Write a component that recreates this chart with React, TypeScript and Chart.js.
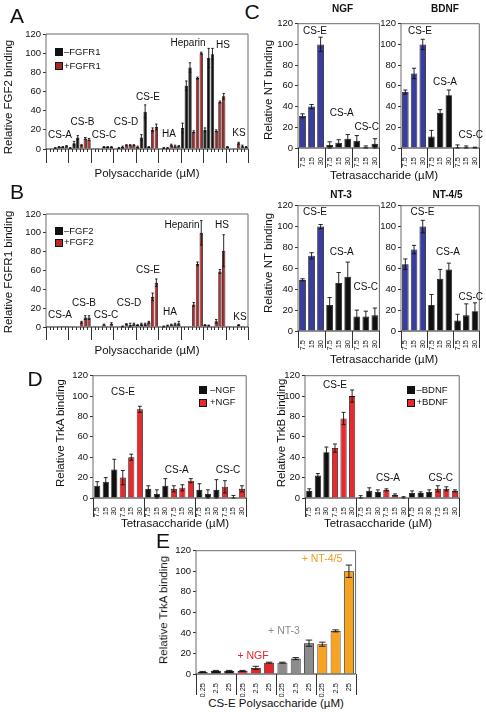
import React, { useEffect, useRef } from 'react';
import { Chart, registerables } from 'chart.js';
Chart.register(...registerables);

const FONT = '"Liberation Sans", Arial, Helvetica, sans-serif';

// ---------- Panel A: FGF2 binding ----------
const aGroups = ['CS-A', 'CS-B', 'CS-C', 'CS-D', 'CS-E', 'HA', 'Heparin', 'HS', 'KS'];
const aMinusFGFR1 = [0.5, 0.5, 1, 1, 6, 12, 0.3, 0.3, 0.5, 0.5, 1, 2, 2, 12, 39, 0.5, 1, 1, 22, 66, 85, 20, 95, 99, 2, 0.5, 0.3];
const aMinusFGFR1Err = [0, 0, 0.5, 0.5, 2, 2, 0, 0, 0, 0, 0.5, 1, 1, 3, 7, 0, 0.5, 0.5, 5, 5, 5, 2, 10, 6, 0.5, 0, 0];
const aPlusFGFR1 = [2, 2, 3, 4, 11, 10, 2, 2, 2, 4, 4, 4, 2, 20, 23, 4, 3, 3, 18, 74, 100, 19, 49, 55, 6, 3, 2];
const aPlusFGFR1Err = [0.5, 0.5, 0.5, 0.5, 1, 1, 0.5, 0.5, 0.5, 0.5, 0.5, 0.5, 0.5, 2, 3, 1, 1, 0.5, 1, 1, 1, 1, 1, 3, 1, 1, 0.5];

// ---------- Panel B: FGFR1 binding ----------
const bMinusFGF2 = [0.3, 0.3, 0.3, 0.3, 0.3, 0.5, 0.3, 0.3, 0.3, 0.3, 0.3, 0.5, 2, 3, 3, 0.3, 0.5, 1.5, 0.3, 0.3, 0.3, 2, 1.5, 0.5, 0.3, 0.3, 0.3];
const bMinusFGF2Err = [0, 0, 0, 0, 0, 0, 0, 0, 0, 0, 0, 0.5, 0.5, 1, 1, 0, 0.5, 0.5, 0, 0, 0, 0.5, 0.5, 0, 0, 0, 0];
const bPlusFGF2 = [1, 1, 1, 5, 10, 10, 2.5, 0.5, 3.5, 3, 2, 3, 5, 32, 47, 2.5, 3, 4, 24, 67, 100, 6, 59, 81, 2, 1, 0.5];
const bPlusFGF2Err = [0, 0, 0, 1, 2, 2, 0.5, 0, 1, 0.5, 2, 1, 1, 4, 4, 0.5, 1, 2, 2, 2, 13, 2, 2, 17, 0.5, 0, 0];

// ---------- Panel C: NT binding ----------
const cConc = ['7.5', '15', '30'];
const cGroups = ['CS-E', 'CS-A', 'CS-C'];
const cNGF = [31, 40, 100, 3, 5, 9, 7, 1, 4];
const cNGFErr = [2, 2, 7, 3, 3, 4, 5, 1, 5];
const cBDNF = [54, 72, 100, 11, 34, 51, 1, 1, 0.3];
const cBDNFErr = [2, 5, 5, 6, 3, 5, 2, 1, 0.5];
const cNT3 = [49, 72, 100, 25, 46, 52, 14, 14, 15];
const cNT3Err = [1, 3, 2, 7, 10, 14, 6, 5, 7];
const cNT45 = [64, 78, 100, 25, 50, 59, 10, 15, 19];
const cNT45Err = [5, 4, 6, 10, 9, 6, 6, 11, 8];

// ---------- Panel D: TrkA / TrkB binding ----------
const dMinusNGF = [12, 16, 28, 9, 4, 12, 8, 4, 8];
const dMinusNGFErr = [4, 4, 10, 3, 4, 7, 6, 4, 10];
const dPlusNGF = [20, 40, 87, 9, 10, 17, 11, 0.5, 9];
const dPlusNGFErr = [7, 3, 3, 3, 3, 2, 6, 2, 3];
const dMinusBDNF = [7, 22, 45, 0.3, 7, 6, 5, 5, 6];
const dMinusBDNFErr = [2, 2, 5, 2, 3, 2, 2, 1, 2];
const dPlusBDNF = [49, 78, 100, 8, 3, 0.3, 9, 9, 7];
const dPlusBDNFErr = [4, 6, 6, 1, 1, 1, 3, 2, 1];

// ---------- Panel E: TrkA binding, CS-E polysaccharide ----------
const eConc = ['0.25', '2.5', '25'];
const eControl = [2, 3, 3];
const eControlErr = [0.5, 0.5, 0.5];
const eNGF = [3, 6, 11];
const eNGFErr = [0.5, 1.5, 0.5];
const eNT3 = [11, 15, 30];
const eNT3Err = [0.5, 1, 3];
const eNT45 = [29, 42, 100];
const eNT45Err = [2, 1, 6];

const BLACK = '#111111';
const BLUE = '#3b3d9c';

type DS = { data: (number | null)[]; errors: (number | null)[]; color: string | string[] };

// Build paired (minus x3, plus x3 per group) slot datasets
function paired(nGroups: number, minus: number[], minusErr: number[], plus: number[], plusErr: number[]) {
  const m: (number | null)[] = [], me: (number | null)[] = [], p: (number | null)[] = [], pe: (number | null)[] = [];
  for (let g = 0; g < nGroups; g++) {
    for (let k = 0; k < 3; k++) { m.push(minus[g * 3 + k]); me.push(minusErr[g * 3 + k]); p.push(null); pe.push(null); }
    for (let k = 0; k < 3; k++) { m.push(null); me.push(null); p.push(plus[g * 3 + k]); pe.push(plusErr[g * 3 + k]); }
  }
  return { m, me, p, pe };
}

const extrasPlugin = {
  id: 'extras',
  afterDatasetsDraw(chart: any, _args: any, opts: any) {
    const { ctx, chartArea: a, scales } = chart;
    const x = scales.x, y = scales.y;
    ctx.save();
    // error bars
    chart.data.datasets.forEach((ds: any, i: number) => {
      const meta = chart.getDatasetMeta(i);
      const errs = ds.errors || [];
      meta.data.forEach((el: any, j: number) => {
        const v = ds.data[j];
        const e = errs[j];
        if (v == null || !e) return;
        const xp = el.x;
        const yt = y.getPixelForValue(v + e);
        const yb = y.getPixelForValue(Math.max(0, v - e));
        const hw = Math.max(1.2, el.width * 0.32);
        ctx.strokeStyle = '#111';
        ctx.lineWidth = 0.9;
        ctx.beginPath();
        ctx.moveTo(xp, yt); ctx.lineTo(xp, yb);
        ctx.moveTo(xp - hw, yt); ctx.lineTo(xp + hw, yt);
        ctx.moveTo(xp - hw, yb); ctx.lineTo(xp + hw, yb);
        ctx.stroke();
      });
    });
    // box
    ctx.strokeStyle = opts.boxColor || '#666';
    ctx.lineWidth = 1;
    ctx.beginPath();
    ctx.moveTo(a.left, a.bottom); ctx.lineTo(a.left, a.top); ctx.lineTo(a.right, a.top); ctx.lineTo(a.right, a.bottom);
    ctx.stroke();
    ctx.strokeStyle = '#222';
    ctx.beginPath();
    ctx.moveTo(a.left, a.bottom); ctx.lineTo(a.right, a.bottom);
    ctx.stroke();
    const n = chart.data.labels.length;
    const bound = (k: number) => (k <= 0 ? a.left : k >= n ? a.right : (x.getPixelForValue(k - 1) + x.getPixelForValue(k)) / 2);
    ctx.strokeStyle = '#333';
    ctx.lineWidth = 1;
    ctx.beginPath();
    for (let k = 0; k <= n; k++) {
      const bx = Math.round(bound(k)) + 0.5;
      if (k % opts.groupSize === 0) {
        ctx.moveTo(bx, a.bottom); ctx.lineTo(bx, a.bottom + opts.sepLen);
      } else if (opts.minor) {
        ctx.moveTo(bx, a.bottom); ctx.lineTo(bx, a.bottom + opts.minorLen);
      }
    }
    ctx.stroke();
    ctx.restore();
  },
};

type PanelProps = {
  area: { l: number; t: number; r: number; b: number };
  yw: number; pt: number; pr: number; xh: number;
  labels: string[];
  showX: boolean;
  datasets: DS[];
  groupSize: number;
  minor: boolean;
  sepLen: number;
  barPct: number;
};

function Panel(p: PanelProps) {
  const ref = useRef<HTMLCanvasElement>(null);
  const left = p.area.l - p.yw;
  const top = p.area.t - p.pt;
  const width = p.area.r + p.pr - left;
  const height = p.area.b + p.xh - top;
  useEffect(() => {
    const chart = new Chart(ref.current as HTMLCanvasElement, {
      type: 'bar',
      data: {
        labels: p.labels,
        datasets: p.datasets.map((d) => ({
          data: d.data,
          errors: d.errors,
          backgroundColor: d.color,
          borderColor: '#111',
          borderWidth: 0.8,
          grouped: false,
          barPercentage: p.barPct,
          categoryPercentage: 1,
        })) as any,
      },
      options: {
        responsive: false,
        animation: false,
        layout: { padding: { top: p.pt, right: p.pr, left: 0, bottom: 0 } },
        plugins: {
          legend: { display: false },
          tooltip: { enabled: false },
          extras: { groupSize: p.groupSize, minor: p.minor, sepLen: p.sepLen, minorLen: 3, boxColor: '#6a6a6a' },
        } as any,
        scales: {
          x: {
            offset: true,
            ticks: {
              display: p.showX,
              autoSkip: false,
              minRotation: 90,
              maxRotation: 90,
              padding: 1,
              color: '#111',
              font: { family: FONT, size: 7.5 },
            },
            grid: { display: false },
            border: { display: false },
            afterFit: (s: any) => { s.height = p.xh; },
          },
          y: {
            min: 0,
            max: 120,
            ticks: { stepSize: 20, padding: 2, color: '#111', font: { family: FONT, size: 9.5 } },
            grid: { drawOnChartArea: false, drawTicks: true, tickLength: 3, color: '#333' },
            border: { display: false },
            afterFit: (s: any) => { s.width = p.yw; },
          },
        },
      } as any,
      plugins: [extrasPlugin],
    });
    return () => chart.destroy();
  }, []);
  return <canvas ref={ref} width={width} height={height} style={{ position: 'absolute', left, top }} />;
}

type TP = { x: number; y: number; s: string; size?: number; color?: string; rot?: number; bold?: boolean; align?: 'center' | 'left' };
function T({ x, y, s, size = 10, color = '#111', rot = 0, bold = false, align = 'center' }: TP) {
  return (
    <div
      style={{
        position: 'absolute',
        left: x,
        top: y,
        transform: `translate(${align === 'left' ? '0' : '-50%'}, -50%) rotate(${rot}deg)`,
        fontSize: size,
        fontFamily: FONT,
        color,
        fontWeight: bold ? 'bold' : 'normal',
        whiteSpace: 'nowrap',
        lineHeight: 1,
      }}
    >
      {s}
    </div>
  );
}

function Sq({ x, y, color }: { x: number; y: number; color: string }) {
  return <div style={{ position: 'absolute', left: x, top: y, width: 6, height: 6, background: color, border: '0.8px solid #111' }} />;
}

const rep = (arr: string[], n: number) => Array.from({ length: n }, () => arr).flat();

export default function App() {
  const A = paired(aGroups.length, aMinusFGFR1, aMinusFGFR1Err, aPlusFGFR1, aPlusFGFR1Err);
  const B = paired(aGroups.length, bMinusFGF2, bMinusFGF2Err, bPlusFGF2, bPlusFGF2Err);
  const DL = paired(cGroups.length, dMinusNGF, dMinusNGFErr, dPlusNGF, dPlusNGFErr);
  const DR = paired(cGroups.length, dMinusBDNF, dMinusBDNFErr, dPlusBDNF, dPlusBDNFErr);
  const abLabels = rep(['', '', '', '', '', ''], aGroups.length);
  const cLabels = rep(cConc, 3);
  const cColors = [BLUE, BLUE, BLUE, BLACK, BLACK, BLACK, BLACK, BLACK, BLACK];
  const dLabels = rep(cConc, 6);
  const eLabels = rep(eConc, 4);
  const eColors = [BLACK, BLACK, BLACK, '#e3262b', '#e3262b', '#e3262b', '#8c8c8c', '#8c8c8c', '#8c8c8c', '#f6a321', '#f6a321', '#f6a321'];
  const ARED = '#a3292b';
  const BRED = '#b52a2b';
  const DRED = '#e62a2d';

  return (
    <div style={{ position: 'absolute', left: 0, top: 0, width: 486, height: 712, background: '#fff', overflow: 'hidden' }}>
      {/* Panel A */}
      <Panel area={{ l: 46, t: 34, r: 248, b: 149 }} yw={46} pt={8} pr={3} xh={20} labels={abLabels} showX={false}
        datasets={[{ data: A.m, errors: A.me, color: BLACK }, { data: A.p, errors: A.pe, color: ARED }]}
        groupSize={6} minor={true} sepLen={14} barPct={0.9} />
      {/* Panel B */}
      <Panel area={{ l: 46, t: 214, r: 248, b: 327 }} yw={46} pt={8} pr={3} xh={20} labels={abLabels} showX={false}
        datasets={[{ data: B.m, errors: B.me, color: BLACK }, { data: B.p, errors: B.pe, color: BRED }]}
        groupSize={6} minor={true} sepLen={13} barPct={0.9} />
      {/* Panel C */}
      <Panel area={{ l: 298, t: 23, r: 383, b: 148 }} yw={24} pt={7} pr={2} xh={22} labels={cLabels} showX={true}
        datasets={[{ data: cNGF, errors: cNGFErr, color: cColors }]} groupSize={3} minor={false} sepLen={20} barPct={0.75} />
      <Panel area={{ l: 401, t: 23, r: 484, b: 148 }} yw={22} pt={7} pr={1} xh={22} labels={cLabels} showX={true}
        datasets={[{ data: cBDNF, errors: cBDNFErr, color: cColors }]} groupSize={3} minor={false} sepLen={20} barPct={0.75} />
      <Panel area={{ l: 298, t: 205, r: 383, b: 331 }} yw={24} pt={7} pr={2} xh={20} labels={cLabels} showX={true}
        datasets={[{ data: cNT3, errors: cNT3Err, color: cColors }]} groupSize={3} minor={false} sepLen={17} barPct={0.75} />
      <Panel area={{ l: 401, t: 205, r: 484, b: 331 }} yw={22} pt={7} pr={1} xh={20} labels={cLabels} showX={true}
        datasets={[{ data: cNT45, errors: cNT45Err, color: cColors }]} groupSize={3} minor={false} sepLen={17} barPct={0.75} />
      {/* Panel D */}
      <Panel area={{ l: 93, t: 375, r: 250, b: 498 }} yw={26} pt={7} pr={2} xh={22} labels={dLabels} showX={true}
        datasets={[{ data: DL.m, errors: DL.me, color: BLACK }, { data: DL.p, errors: DL.pe, color: DRED }]}
        groupSize={6} minor={false} sepLen={19} barPct={0.72} />
      <Panel area={{ l: 305, t: 375, r: 463, b: 498 }} yw={26} pt={7} pr={2} xh={22} labels={dLabels} showX={true}
        datasets={[{ data: DR.m, errors: DR.me, color: BLACK }, { data: DR.p, errors: DR.pe, color: DRED }]}
        groupSize={6} minor={false} sepLen={19} barPct={0.72} />
      {/* Panel E */}
      <Panel area={{ l: 196, t: 550, r: 357, b: 674 }} yw={26} pt={7} pr={2} xh={23} labels={eLabels} showX={true}
        datasets={[{ data: [...eControl, ...eNGF, ...eNT3, ...eNT45], errors: [...eControlErr, ...eNGFErr, ...eNT3Err, ...eNT45Err], color: eColors }]}
        groupSize={3} minor={false} sepLen={21} barPct={0.75} />

      {/* Panel letters */}
      <T x={17} y={15} s="A" size={21} />
      <T x={17} y={191} s="B" size={21} />
      <T x={252} y={11} s="C" size={21} />
      <T x={35} y={378} s="D" size={21} />
      <T x={163} y={540} s="E" size={21} />

      {/* A texts */}
      <T x={9} y={97} s="Relative FGF2 binding" size={11.5} rot={-90} />
      <T x={147} y={174} s="Polysaccharide (µM)" size={11.5} />
      <Sq x={55} y={48} color={BLACK} />
      <T x={64} y={51.5} s="–FGFR1" size={9.5} align="left" />
      <Sq x={55} y={62} color={ARED} />
      <T x={64} y={65.5} s="+FGFR1" size={9.5} align="left" />
      <T x={60} y={135} s="CS-A" />
      <T x={82.5} y={122} s="CS-B" />
      <T x={104} y={135} s="CS-C" />
      <T x={126} y={122} s="CS-D" />
      <T x={148} y={97} s="CS-E" />
      <T x={169} y={134} s="HA" />
      <T x={188} y={43} s="Heparin" />
      <T x={223} y={45} s="HS" />
      <T x={239} y={133} s="KS" />

      {/* B texts */}
      <T x={9} y={272} s="Relative FGFR1 binding" size={11.5} rot={-90} />
      <T x={147} y={351} s="Polysaccharide (µM)" size={11.5} />
      <Sq x={55} y={227} color={BLACK} />
      <T x={64} y={230.5} s="–FGF2" size={9.5} align="left" />
      <Sq x={55} y={238.5} color={BRED} />
      <T x={64} y={242} s="+FGF2" size={9.5} align="left" />
      <T x={60} y={315} s="CS-A" />
      <T x={84} y={303} s="CS-B" />
      <T x={106} y={315} s="CS-C" />
      <T x={129} y={303} s="CS-D" />
      <T x={148} y={270} s="CS-E" />
      <T x={170} y={312} s="HA" />
      <T x={182} y={225} s="Heparin" />
      <T x={222} y={225} s="HS" />
      <T x={240} y={317} s="KS" />

      {/* C texts */}
      <T x={269} y={90} s="Relative NT binding" size={11.5} rot={-90} />
      <T x={269} y={263} s="Relative NT binding" size={11.5} rot={-90} />
      <T x={384} y={176} s="Tetrasaccharide (µM)" size={11.5} />
      <T x={384} y={360} s="Tetrasaccharide (µM)" size={11.5} />
      <T x={342.5} y={9} s="NGF" size={10} bold />
      <T x={445} y={9} s="BDNF" size={10} bold />
      <T x={341} y={195} s="NT-3" size={10} bold />
      <T x={447.5} y={195} s="NT-4/5" size={10} bold />
      <T x={315} y={31} s="CS-E" />
      <T x={341.7} y={113} s="CS-A" />
      <T x={366.7} y={127} s="CS-C" />
      <T x={420} y={31} s="CS-E" />
      <T x={445} y={82} s="CS-A" />
      <T x={470.8} y={135} s="CS-C" />
      <T x={315} y={212} s="CS-E" />
      <T x={341.7} y={252} s="CS-A" />
      <T x={365.8} y={287} s="CS-C" />
      <T x={422.5} y={212} s="CS-E" />
      <T x={448} y={252} s="CS-A" />
      <T x={470.8} y={297} s="CS-C" />

      {/* D texts */}
      <T x={61} y={433} s="Relative TrkA binding" size={11.5} rot={-90} />
      <T x={282} y={433} s="Relative TrkB binding" size={11.5} rot={-90} />
      <T x={175} y={524} s="Tetrasaccharide (µM)" size={11.5} />
      <T x={378} y={524} s="Tetrasaccharide (µM)" size={11.5} />
      <Sq x={199} y={386} color={BLACK} />
      <T x={210} y={389.5} s="–NGF" size={9.5} align="left" />
      <Sq x={199} y={398.5} color={DRED} />
      <T x={210} y={402} s="+NGF" size={9.5} align="left" />
      <Sq x={406.5} y={386} color={BLACK} />
      <T x={416.5} y={389.5} s="–BDNF" size={9.5} align="left" />
      <Sq x={406.5} y={398.5} color={DRED} />
      <T x={416.5} y={402} s="+BDNF" size={9.5} align="left" />
      <T x={123} y={392} s="CS-E" />
      <T x={176.7} y={470} s="CS-A" />
      <T x={228} y={470} s="CS-C" />
      <T x={335} y={385} s="CS-E" />
      <T x={388} y={478} s="CS-A" />
      <T x={440.8} y={478} s="CS-C" />

      {/* E texts */}
      <T x={164} y={610} s="Relative TrkA binding" size={11.5} rot={-90} />
      <T x={276} y={704} s="CS-E Polysaccharide (µM)" size={11.5} />
      <T x={253} y={655} s="+ NGF" size={10.5} color="#e3262b" />
      <T x={284} y={630} s="+ NT-3" size={10.5} color="#8c8c8c" />
      <T x={322} y={558} s="+ NT-4/5" size={10.5} color="#f19a1a" />
    </div>
  );
}
